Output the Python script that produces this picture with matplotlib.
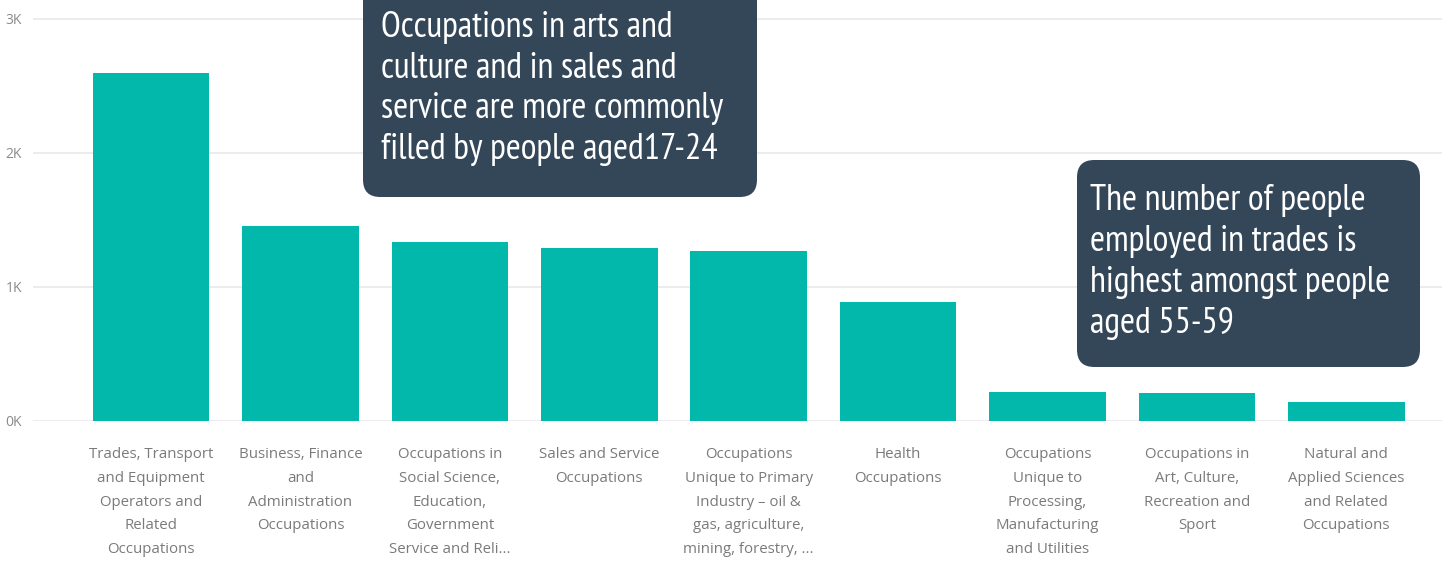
import matplotlib
matplotlib.use("Agg")
import matplotlib.pyplot as plt
from matplotlib.patches import FancyBboxPatch

categories = [
    "Trades, Transport\nand Equipment\nOperators and\nRelated\nOccupations",
    "Business, Finance\nand\nAdministration\nOccupations",
    "Occupations in\nSocial Science,\nEducation,\nGovernment\nService and Reli...",
    "Sales and Service\nOccupations",
    "Occupations\nUnique to Primary\nIndustry \u2013 oil &\ngas, agriculture,\nmining, forestry, ...",
    "Health\nOccupations",
    "Occupations\nUnique to\nProcessing,\nManufacturing\nand Utilities",
    "Occupations in\nArt, Culture,\nRecreation and\nSport",
    "Natural and\nApplied Sciences\nand Related\nOccupations",
]
values = [2600, 1455, 1335, 1290, 1270, 890, 215, 210, 140]
yticks = [0, 1000, 2000, 3000]
ytick_labels = ["0K", "1K", "2K", "3K"]

note1 = ["Occupations in arts and", "culture and in sales and",
         "service are more commonly", "filled by people aged17-24"]
note2 = ["The number of people", "employed in trades is",
         "highest amongst people", "aged 55-59"]

W, H = 1442, 561
fig = plt.figure(figsize=(W / 100, H / 100), dpi=100)
fig.patch.set_facecolor("white")

ui = ["Selawik", "Open Sans", "DejaVu Sans"]
narrow = ["PT Sans Narrow", "Roboto Condensed", "Fira Sans Condensed",
          "Open Sans Condensed", "Encode Sans Condensed", "DejaVu Sans"]

ax_left, ax_right, ax_bottom, ax_top = 33, 1442, 421, 0
ax = fig.add_axes([ax_left / W, 1 - ax_bottom / H, (ax_right - ax_left) / W, (ax_bottom - ax_top) / H])

x = list(range(len(categories)))
ax.bar(x, values, width=0.78, color="#01B8AA", zorder=3)

ax.set_xlim(-0.79, 8.64)
ax.set_ylim(0, 421 / 134 * 1000)
ax.set_yticks(yticks)
ax.set_yticklabels(ytick_labels)
ax.yaxis.grid(True, color="#e9e9e9", linewidth=1.2, zorder=0)
ax.set_axisbelow(True)
for s in ax.spines.values():
    s.set_visible(False)
ax.tick_params(axis="y", length=0, pad=8, labelsize=10, labelcolor="#8a8a8a")
ax.tick_params(axis="x", length=0, pad=19)
ax.set_xticks(x)
ax.set_xticklabels(categories, fontsize=10.8, color="#7a7a7a", family=ui,
                   linespacing=1.79, va="top", ha="center")
for lbl in ax.get_yticklabels():
    lbl.set_family(ui)

box_color = "#344759"


def px(xp, yp):
    return xp / W, 1 - yp / H


def note(x0, y0, x1, y1, tx, ty0, lines, step, fs):
    bx = FancyBboxPatch(px(x0, y1), (x1 - x0) / W, (y1 - y0) / H,
                        boxstyle="round,pad=0,rounding_size=0.012",
                        transform=fig.transFigure, facecolor=box_color,
                        edgecolor="none", zorder=10, mutation_aspect=W / H)
    fig.add_artist(bx)
    for i, line in enumerate(lines):
        fig.text(*px(tx, ty0 + i * step), line, color="white", fontsize=fs,
                 family=narrow, ha="left", va="baseline", zorder=11)


note(363, -20, 757, 197, 381, 37, note1, 40.7, 26)
note(1077, 160, 1420, 367, 1090, 210, note2, 41, 26)

fig.savefig("out.png", dpi=100, facecolor="white")
